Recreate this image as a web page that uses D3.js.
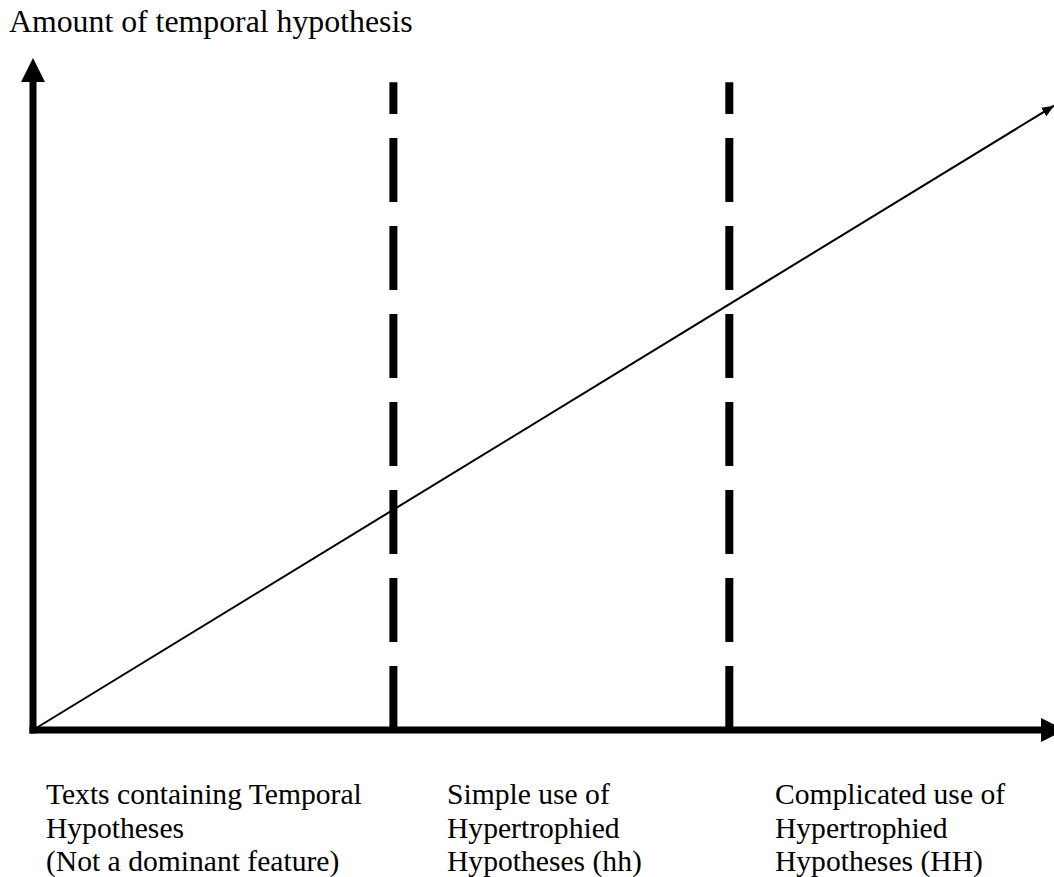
<!DOCTYPE html>
<html>
<head>
<meta charset="utf-8">
<script src="https://cdn.jsdelivr.net/npm/d3@7"></script>
<style>
  html, body { margin: 0; padding: 0; background: #fff; }
  svg { display: block; }
  text { font-family: "Liberation Serif", "Times New Roman", serif; fill: #000; }
</style>
</head>
<body>
<script>
// ---- data ----
const yAxisTitle = "Amount of temporal hypothesis";
const boundaries = [35.3, 68.2];              // dashed stage boundaries (x, 0-100)
const trendX = [0, 100];                       // trend line x values
const trendY = [0, 92.9];                      // trend line y values
const dashTop = 96.4;                          // top of dashed lines (y)
const stageStarts = [1.27, 40.55, 72.67];      // x where each stage label starts
const stageLabels = [
  ["Texts containing Temporal", "Hypotheses", "(Not a dominant feature)"],
  ["Simple use of", "Hypertrophied", "Hypotheses (hh)"],
  ["Complicated use of", "Hypertrophied", "Hypotheses (HH)"]
];

// ---- layout ----
const W = 1054, H = 877;
const svg = d3.select("body").append("svg").attr("width", W).attr("height", H);

const x = d3.scaleLinear().domain([0, 100]).range([33, 1054]);
const y = d3.scaleLinear().domain([0, 100]).range([730, 58]);

const defs = svg.append("defs");
defs.append("marker").attr("id", "bigArrow")
  .attr("markerUnits", "userSpaceOnUse")
  .attr("markerWidth", 26).attr("markerHeight", 26)
  .attr("viewBox", "0 -13 26 26").attr("refX", 0).attr("refY", 0)
  .attr("orient", "auto")
  .append("path").attr("d", "M0,-12L24,0L0,12Z").attr("fill", "#000");
defs.append("marker").attr("id", "smallArrow")
  .attr("markerUnits", "userSpaceOnUse")
  .attr("markerWidth", 14).attr("markerHeight", 14)
  .attr("viewBox", "0 -7 14 14").attr("refX", 12).attr("refY", 0)
  .attr("orient", "auto")
  .append("path").attr("d", "M0,-5L12,0L0,5Z").attr("fill", "#000");

// title
svg.append("text").attr("x", 9).attr("y", 32)
  .attr("font-size", 31.8).text(yAxisTitle);

// dashed boundaries (drawn from bottom up)
svg.selectAll("line.boundary").data(boundaries).join("line")
  .attr("class", "boundary")
  .attr("x1", d => x(d)).attr("x2", d => x(d))
  .attr("y1", y(0)).attr("y2", y(dashTop))
  .attr("stroke", "#000").attr("stroke-width", 8)
  .attr("stroke-dasharray", "64,24");

// trend line
const line = d3.line().x(d => x(d[0])).y(d => y(d[1]));
svg.append("path")
  .datum(trendX.map((v, i) => [v, trendY[i]]))
  .attr("d", line)
  .attr("fill", "none").attr("stroke", "#000").attr("stroke-width", 2)
  .attr("marker-end", "url(#smallArrow)");

// y axis (arrow up)
svg.append("line")
  .attr("x1", x(0)).attr("x2", x(0))
  .attr("y1", y(0) + 3.5).attr("y2", y(100) + 24)
  .attr("stroke", "#000").attr("stroke-width", 7)
  .attr("marker-end", "url(#bigArrow)");

// x axis (arrow right)
svg.append("line")
  .attr("x1", x(0) - 3.5).attr("x2", 1041)
  .attr("y1", y(0)).attr("y2", y(0))
  .attr("stroke", "#000").attr("stroke-width", 7)
  .attr("marker-end", "url(#bigArrow)");

// stage labels
const g = svg.selectAll("g.stage").data(stageLabels).join("g").attr("class", "stage");
g.each(function(lines, i) {
  d3.select(this).selectAll("text").data(lines).join("text")
    .attr("x", x(stageStarts[i]))
    .attr("y", (d, j) => 804 + j * 33.5)
    .attr("font-size", 29.6)
    .text(d => d);
});
</script>
</body>
</html>
